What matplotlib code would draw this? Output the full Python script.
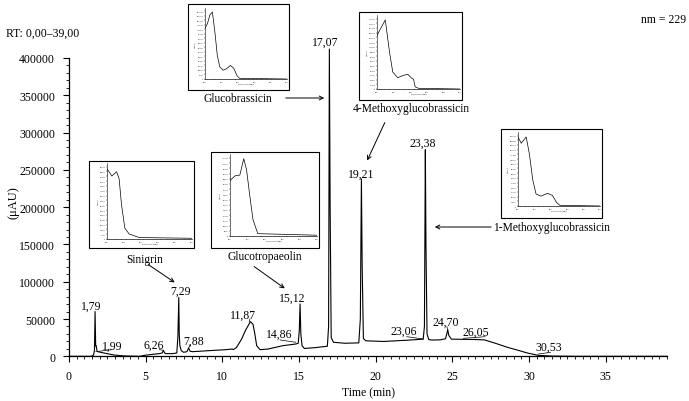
import matplotlib
matplotlib.use("Agg")
import matplotlib.pyplot as plt
from matplotlib.patches import Rectangle
from matplotlib.ticker import MultipleLocator, FixedLocator

plt.rcParams['font.family'] = ['Liberation Serif', 'DejaVu Serif']

W, H = 689, 402

# ---------------- data ----------------
trace_time = [0, 1.45, 1.6, 1.66, 1.70, 1.74, 1.77, 1.82, 1.87, 2.26, 2.91, 3.56, 4.6, 4.93, 5.47,
              5.9, 6.08, 6.16, 6.22, 6.29, 6.77, 7.03, 7.1, 7.16, 7.19, 7.23, 7.32, 7.47, 7.69, 7.8,
              7.9, 8.07, 9.16, 10.25, 10.64, 10.72, 10.93, 11.26, 11.5, 11.83, 12.0, 12.12, 12.24,
              12.46, 13.0, 13.93, 14.8, 14.95, 15.02, 15.07, 15.12, 15.2, 15.35, 16.0, 16.85, 16.93,
              16.98, 17.03, 17.1, 17.25, 18.0, 18.9, 19.0, 19.07, 19.12, 19.2, 19.35, 20.5, 22.0,
              23.1, 23.18, 23.24, 23.28, 23.35, 23.46, 23.66, 24.2, 24.55, 24.64, 24.7, 24.77, 24.94,
              25.5, 26.5, 27.1, 27.8, 28.6, 29.3, 29.9, 30.6, 31.5, 33, 36, 39]
trace_signal = [0, 0, 1600, 8000, 60000, 14000, 14200, 8000, 6200, 4500, 1800, 500, 0, 1300, 2700,
                3600, 4500, 8000, 5000, 3600, 3600, 4500, 25500, 79000, 30000, 14200, 7600, 5400, 6200, 11000,
                6700, 6200, 7600, 8900, 9800, 8900, 12000, 23200, 34400, 46500, 43000, 30000, 14200,
                8900, 9800, 14200, 16500, 17500, 35000, 70200, 30000, 14000, 10500, 11500, 13500, 40000,
                412000, 200000, 25000, 18800, 17500, 18000, 50000, 238000, 120000, 24000, 20800, 19900, 21500,
                23000, 40000, 277000, 150000, 30000, 22500, 21800, 22000, 23500, 30000, 35700, 28000, 23000,
                22800, 22500, 22000, 17500, 12000, 8000, 4400, 1300, 300, 0, 0, 0]

peak_labels = ['1,79', '1,99', '6,26', '7,29', '7,88', '11,87', '14,86', '15,12', '17,07',
               '19,21', '23,06', '23,38', '24,70', '26,05', '30,53']
peak_label_t = [1.48, 2.79, 5.54, 7.24, 8.15, 11.35, 13.7, 14.55, 16.74, 19.05, 21.8, 23.1, 24.6, 26.5, 31.3]
peak_label_v = [67500, 14200, 15200, 87600, 20500, 55400, 30000, 78300, 422000, 244700, 34000, 287000,
                46000, 32700, 12500]

# leader lines from labels (t0, v0, t1, v1)
leader_t0 = [1.75, 5.9, 7.8, 11.75, 13.76, 22.03, 24.68, 25.72, 30.6]
leader_v0 = [6200, 9000, 11000, 46500, 21900, 26300, 35700, 24100, 3000]
leader_t1 = [2.79, 6.16, 7.9, 11.8, 14.79, 23.11, 24.65, 27.14, 31.4]
leader_v1 = [8900, 8000, 15000, 50000, 18800, 23200, 40000, 26300, 5300]

xticks = [0, 5, 10, 15, 20, 25, 30, 35]
yticks = [0, 50000, 100000, 150000, 200000, 250000, 300000, 350000, 400000]

# UV spectra of insets (fraction of wavelength axis, relative absorbance)
compounds = ['Glucobrassicin', '4-Methoxyglucobrassicin', 'Sinigrin', 'Glucotropaeolin',
             '1-Methoxyglucobrassicin']
spec_gb_f = [0, 0.03, 0.06, 0.09, 0.12, 0.15, 0.18, 0.22, 0.26, 0.31, 0.35, 0.39, 0.42, 1.0]
spec_gb_v = [0.75, 0.82, 0.95, 0.99, 0.70, 0.35, 0.18, 0.13, 0.15, 0.20, 0.16, 0.05, 0.01, 0.0]
spec_4m_f = [0, 0.04, 0.10, 0.15, 0.19, 0.25, 0.31, 0.37, 0.42, 0.44, 0.46, 0.5, 1.0]
spec_4m_v = [0.76, 0.85, 0.98, 0.53, 0.24, 0.16, 0.19, 0.21, 0.15, 0.14, 0.03, 0.01, 0.0]
spec_si_f = [0, 0.057, 0.113, 0.143, 0.17, 0.21, 0.26, 0.38, 1.0]
spec_si_v = [0.97, 0.87, 0.93, 0.83, 0.48, 0.15, 0.07, 0.02, 0.01]
spec_gt_f = [0, 0.057, 0.113, 0.158, 0.19, 0.226, 0.264, 0.32, 1.0]
spec_gt_v = [0.71, 0.77, 0.78, 0.99, 0.85, 0.53, 0.21, 0.03, 0.01]
spec_1m_f = [0, 0.04, 0.10, 0.14, 0.18, 0.22, 0.28, 0.36, 0.42, 0.47, 0.51, 1.0]
spec_1m_v = [0.98, 0.89, 0.98, 0.73, 0.37, 0.17, 0.14, 0.18, 0.15, 0.05, 0.01, 0.0]

# ---------------- helpers ----------------
def fx(px):
    return px / W

def fy(py):
    return 1 - py / H

fig = plt.figure(figsize=(W / 100, H / 100), dpi=100)
ax = fig.add_axes([fx(69), fy(357.3), fx(667) - fx(69), fy(59) - fy(357.3)])

ax.plot(trace_time, trace_signal, color='black', lw=0.8, clip_on=False, zorder=3)
ax.set_xlim(0, 39)
ax.set_ylim(0, 400000)
for s in ['top', 'right']:
    ax.spines[s].set_visible(False)
for s in ['left', 'bottom']:
    ax.spines[s].set_linewidth(0.9)
ax.xaxis.set_major_locator(FixedLocator(xticks))
ax.yaxis.set_major_locator(FixedLocator(yticks))
ax.xaxis.set_minor_locator(MultipleLocator(0.5))
ax.yaxis.set_minor_locator(MultipleLocator(10000))
ax.set_xticklabels([str(v) for v in xticks])
ax.set_yticklabels([str(v) for v in yticks])
ax.tick_params(which='major', direction='out', length=4, width=0.8, labelsize=8.5, pad=6)
ax.tick_params(which='minor', direction='out', length=2.5, width=0.6)
ax.set_xlabel('Time (min)', fontsize=8.5, labelpad=3)

for lab, t, v in zip(peak_labels, peak_label_t, peak_label_v):
    ax.text(t, v, lab, fontsize=8.5, ha='center', va='center', clip_on=False, zorder=4)
for t0, v0, t1, v1 in zip(leader_t0, leader_v0, leader_t1, leader_v1):
    ax.plot([t0, t1], [v0, v1], color='black', lw=0.5, clip_on=False)

fig.text(fx(14), fy(203), '(μAU)', rotation=90, fontsize=9, ha='center', va='center')
fig.text(fx(6), fy(34), 'RT: 0,00–39,00', fontsize=8.5, ha='left', va='center')
fig.text(fx(641), fy(20), 'nm = 229', fontsize=8.5, ha='left', va='center')

# ---------------- insets ----------------
def inset(box, inner, f, v, ymax):
    x0, y0, x1, y1 = box
    fig.add_artist(Rectangle((fx(x0), fy(y1)), fx(x1) - fx(x0), fy(y0) - fy(y1),
                             transform=fig.transFigure, fill=True, facecolor='white',
                             edgecolor='black', lw=0.8, zorder=5))
    a0, b0, a1, b1 = inner
    iax = fig.add_axes([fx(a0), fy(b1), fx(a1) - fx(a0), fy(b0) - fy(b1)], zorder=6)
    iax.patch.set_alpha(0)
    nm = [200 + 250 * q for q in f]
    iax.plot(nm, [q * ymax for q in v], color='black', lw=0.5)
    iax.set_xlim(200, 450)
    iax.set_ylim(0, ymax * 1.05)
    for s in iax.spines.values():
        s.set_linewidth(0.4)
    iax.spines['top'].set_visible(False)
    iax.spines['right'].set_visible(False)
    iax.xaxis.set_major_locator(MultipleLocator(50))
    iax.xaxis.set_minor_locator(MultipleLocator(5))
    iax.yaxis.set_major_locator(MultipleLocator(ymax / 15))
    iax.tick_params(which='both', direction='out', length=0.8, width=0.3, labelsize=1.6, pad=0.5)
    iax.yaxis.set_major_formatter(plt.FuncFormatter(lambda val, p: '%d' % val))
    iax.set_xlabel('wavelength (nm)', fontsize=1.6, labelpad=0.5)
    iax.set_ylabel('(mAU)', fontsize=1.6, labelpad=0.5)

inset((188, 5, 289, 91), (205, 9, 287, 80), spec_gb_f, spec_gb_v, 140000)
inset((359, 13, 462, 101), (377, 16, 460, 90), spec_4m_f, spec_4m_v, 170000)
inset((89, 162, 194, 249), (107, 164, 192, 240), spec_si_f, spec_si_v, 80000)
inset((211, 153, 319, 249), (230, 155, 317, 237), spec_gt_f, spec_gt_v, 110000)
inset((501, 130, 602, 219), (518, 133, 600, 207), spec_1m_f, spec_1m_v, 160000)

# compound names
name_x = [238, 411, 145, 265, 552]
name_y = [99, 109, 260, 257, 228]
for n, x, y in zip(compounds, name_x, name_y):
    fig.text(fx(x), fy(y), n, fontsize=8.3, ha='center', va='center')

# arrows (figure pixels: start -> end)
arrows = [((283, 99), (327, 99)), ((386, 121), (366, 164)), ((146, 264), (177, 285)),
          ((252, 266), (287, 291)), ((494, 228), (432, 228))]
for (sx, sy), (ex, ey) in arrows:
    fig.add_artist(matplotlib.patches.FancyArrowPatch((fx(sx), fy(sy)), (fx(ex), fy(ey)),
                   transform=fig.transFigure, arrowstyle='->', mutation_scale=7, lw=0.7,
                   color='black', zorder=7))

fig.savefig('out.png', dpi=100)
